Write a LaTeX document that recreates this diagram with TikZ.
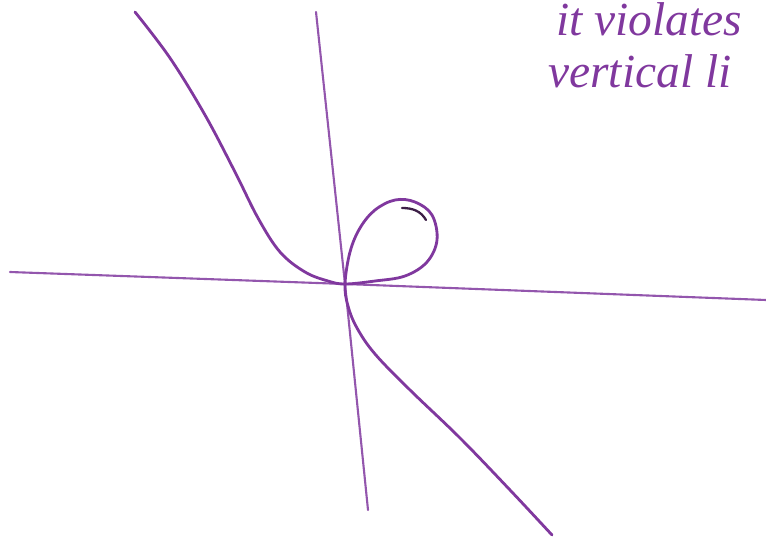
\documentclass[tikz,border=0pt]{standalone}
\usepackage{fontspec}
\setmainfont{Liberation Serif}
\definecolor{penpurple}{RGB}{128,56,158}
\definecolor{pendark}{RGB}{60,30,70}
\tikzset{
  pen/.style={draw=penpurple, line width=1.6pt, line cap=round, line join=round},
  axisline/.style={draw=penpurple!85, line width=1.2pt, line cap=round},
  note/.style={text=penpurple, font=\itshape\fontsize{27}{27}\selectfont, anchor=base west, inner sep=0pt}
}
\begin{document}
\begin{tikzpicture}[x=0.02cm,y=-0.02cm]
\useasboundingbox (0,0) rectangle (766,540);
% axes
\coordinate (xl) at (10,272);
\coordinate (xr) at (766,300);
\coordinate (yt) at (316,12);
\coordinate (yb) at (368,510);
\coordinate (o) at (345,284);
\draw[axisline] (xl) -- (o) -- (xr);
\draw[axisline] (yt) -- (o) -- (yb);
% curve with loop
\draw[pen] plot[smooth, tension=0.6] coordinates {
  (135,12) (170,58) (205,115) (235,172) (258,218) (280,252) (305,272) (328,281) (345,284)
  (375,281) (405,276) (427,262) (437,240) (432,215) (415,202) (395,200) (375,210)
  (360,228) (350,252) (345,284) (348,306) (357,328) (375,354) (410,390) (460,438)
  (510,490) (552,535)};
\draw[draw=pendark, line width=1.3pt, line cap=round] (402,208) to[out=0,in=120] (426,220);
% text
\node[note] (line1) at (556,36) {it violates};
\node[note] (line2) at (548,88) {vertical li};
\end{tikzpicture}
\end{document}
